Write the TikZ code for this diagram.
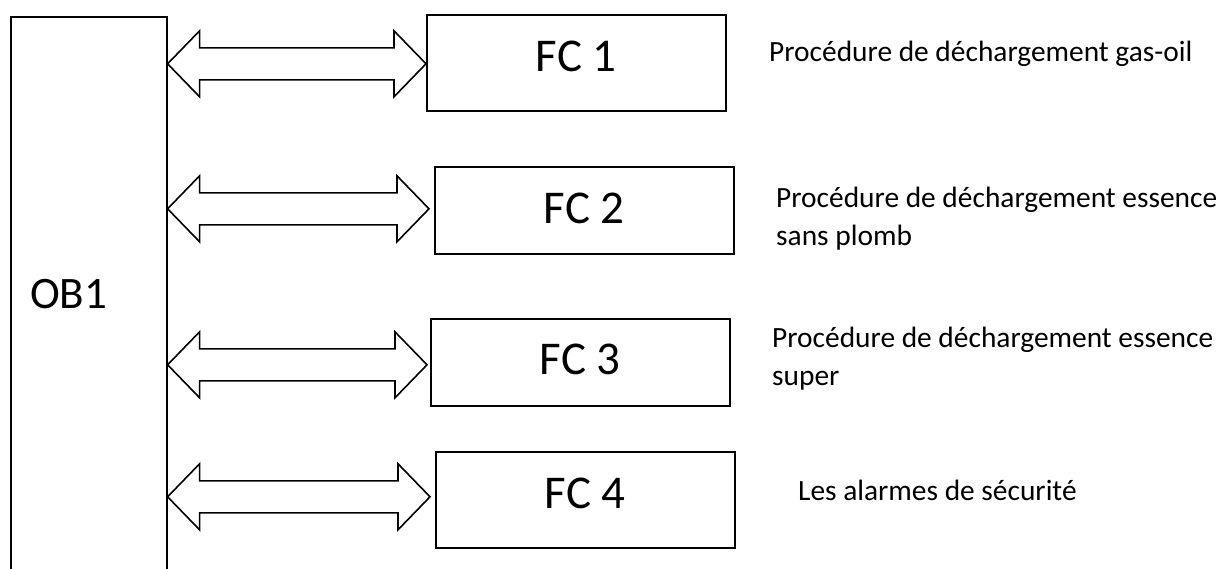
\documentclass[tikz,border=0pt]{standalone}
\usepackage{fontspec}
\setmainfont{Carlito}
\usetikzlibrary{calc}

\tikzset{
  outline/.style={draw=black, line width=1.6pt},
  fcbox/.style={outline, anchor=north west, inner sep=0pt,
    minimum width=299pt, font=\fontsize{47}{56}\selectfont,
    text height=29pt},
  obbox/.style={outline, anchor=north west, inner sep=0pt,
    minimum width=156pt, minimum height=620pt},
  linkarrow/.style={outline, line join=miter, fill=white},
  note/.style={anchor=base west, inner sep=0pt, align=left,
    font=\fontsize{29.4}{38}\selectfont},
}

% hollow two-headed block arrow from the OB1 edge to a point beside an FC block
\newcommand\linkarrow[1]{%
  \draw[linkarrow] let \p1=(ob1.east), \p2=(#1) in
    (\x1,\y2) -- (\x1+32pt,\y2+33pt) -- (\x1+32pt,\y2+16pt)
    -- (\x2-32pt,\y2+16pt) -- (\x2-32pt,\y2+33pt) -- (\x2,\y2)
    -- (\x2-32pt,\y2-33pt) -- (\x2-32pt,\y2-16pt)
    -- (\x1+32pt,\y2-16pt) -- (\x1+32pt,\y2-33pt) -- cycle;}

\begin{document}
\begin{tikzpicture}[x=1pt, y=-1pt]
  \path[use as bounding box, clip] (0,0) rectangle (1219,568);

  % main organisation block (runs past the lower edge)
  \node[obbox] (ob1) at (10,16) {};
  \node[anchor=base west, inner sep=0pt, font=\fontsize{45}{54}\selectfont]
    (ob1label) at (30,308) {OB1};

  % function blocks
  \node[fcbox, minimum height=96pt, text depth=11pt] (fc1) at (426,14)  {FC 1};
  \node[fcbox, minimum height=87pt, text depth=2pt]  (fc2) at (434,166) {FC 2};
  \node[fcbox, minimum height=87pt, text depth=4pt]  (fc3) at (430,318) {FC 3};
  \node[fcbox, minimum height=96pt, text depth=11pt] (fc4) at (435,451) {FC 4};

  % exchanges between OB1 and each FC
  \linkarrow{[yshift=-1pt]fc1.west}
  \linkarrow{[xshift=-5pt,yshift=1.5pt]fc2.west}
  \linkarrow{[xshift=-3pt,yshift=-2.5pt]fc3.west}
  \linkarrow{[xshift=-5pt,yshift=3pt]fc4.west}

  % descriptions (multi-line ones are placed by their last baseline)
  \node[note] (d1) at (769,61)  {Procédure de déchargement gas-oil};
  \node[note] (d2) at (776,245) {Procédure de déchargement essence\\sans plomb};
  \node[note] (d3) at (772,385) {Procédure de déchargement essence\\super};
  \node[note] (d4) at (798,500) {Les alarmes de sécurité};
\end{tikzpicture}
\end{document}
